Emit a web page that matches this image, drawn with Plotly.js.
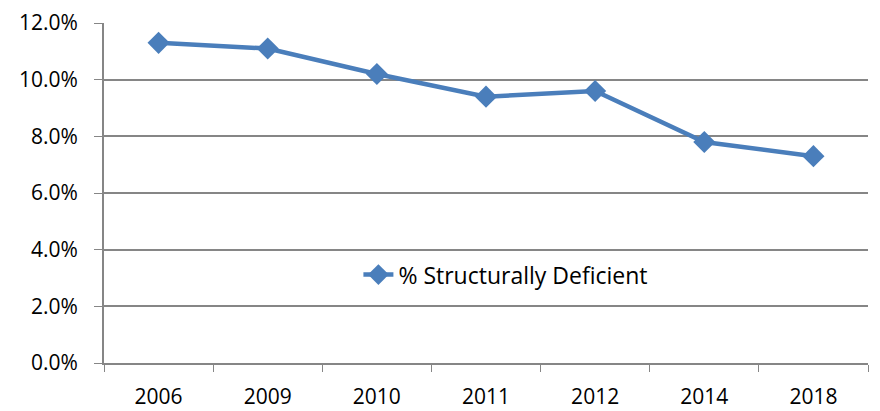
<!DOCTYPE html>
<html><head><meta charset="utf-8">
<script src="https://cdn.plot.ly/plotly-3.0.1.min.js"></script>
<style>html,body{margin:0;padding:0;background:#fff}</style>
</head><body>
<div id="chart" style="width:880px;height:411px"></div>
<script>
const years = ["2006","2009","2010","2011","2012","2014","2018"];
const pctDeficient = [11.3, 11.1, 10.2, 9.4, 9.6, 7.8, 7.3];
const seriesName = "% Structurally Deficient";
const yTicks = [0, 2, 4, 6, 8, 10, 12];
const yTickLabels = ["0.0%", "2.0%", "4.0%", "6.0%", "8.0%", "10.0%", "12.0%"];

const trace = {
  x: years, y: pctDeficient, name: seriesName, type: "scatter", mode: "lines+markers",
  line: {color: "#4a7ebb", width: 4.5},
  marker: {symbol: "diamond", size: 17, color: "#4a7ebb"},
  showlegend: true
};
const layout = {
  width: 880, height: 411,
  margin: {l: 104, r: 12, t: 23, b: 48},
  paper_bgcolor: "#fff", plot_bgcolor: "#fff",
  font: {family: "'Open Sans', sans-serif", size: 21, color: "#000"},
  showlegend: true,
  legend: {x: 0.333, y: 0.26, xanchor: "left", yanchor: "middle", bgcolor: "rgba(0,0,0,0)", font: {size: 23}},
  xaxis: {
    type: "category", range: [-0.5, 6.5], tickson: "boundaries", ticks: "outside", ticklen: 7,
    tickcolor: "#868686", showline: true, linecolor: "#868686", linewidth: 2, showgrid: false,
    zeroline: false, tickfont: {size: 21}, ticklabelstandoff: 14
  },
  yaxis: {
    range: [0, 12], tickvals: yTicks, ticktext: yTickLabels, ticks: "outside", ticklen: 8,
    tickcolor: "#868686", showline: true, linecolor: "#868686", linewidth: 2,
    showgrid: true, gridcolor: "#868686", gridwidth: 2, zeroline: false, tickfont: {size: 21},
    ticklabelstandoff: 12
  }
};
Plotly.newPlot("chart", [trace], layout, {displayModeBar: false});
</script>
</body></html>
